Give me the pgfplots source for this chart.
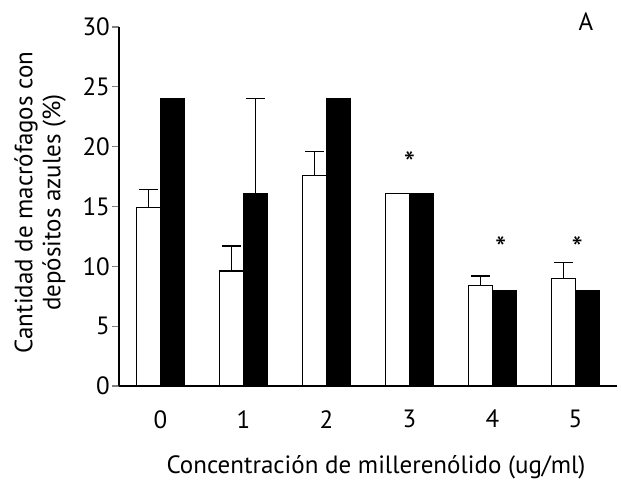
\documentclass[border=0pt]{standalone}
\usepackage{pgfplots}
\pgfplotsset{compat=1.18}
\usepackage{fontspec}
\setmainfont{PT Sans}
\newcommand\bigf{\fontsize{25}{28}\selectfont}
\begin{document}
\bigf
\begin{tikzpicture}
\begin{axis}[
  scale only axis, width=498pt, height=359pt,
  ybar, bar width=24pt,
  axis lines=left, axis line style={-, line width=1.3pt},
  xmin=-0.5, xmax=5.5, ymin=0, ymax=30,
  ytick={0,5,...,30},
  xtick={0,...,5}, xticklabels={0,1,2,3,4,5},
  xtick style={draw=none},
  extra x ticks={-0.5,0.5,1.5,2.5,3.5,4.5,5.5},
  extra x tick labels={},
  extra x tick style={tick style={draw=black, line width=1.3pt}, major tick length=9pt},
  ytick style={line width=1.3pt},
  major tick length=7pt,
  tick align=outside,
  /pgf/number format/assume math mode=true,
  tick label style={font=\bigf, inner sep=0pt},
  xticklabel style={anchor=north, yshift=-17pt},
  yticklabel style={anchor=east, xshift=-2pt},
  xlabel={Concentración de millerenólido (ug/ml)},
  xlabel style={font=\bigf, inner sep=0pt, at={(rel axis cs:0.516,0)}, anchor=north, yshift=-69pt},
  ylabel={Cantidad de macrófagos con\\depósitos azules (\%)},
  ylabel style={font=\bigf, inner sep=0pt, align=center, at={(rel axis cs:-0.1064,0.511)}, anchor=south},
  clip=false,
]
\addplot[bar shift=-12pt, draw=black, fill=white, line width=1.3pt,
  error bars/.cd, y dir=plus, y explicit,
  error bar style={line width=1.3pt},
  error mark options={rotate=90, mark size=9.5pt, line width=1.3pt}]
  coordinates {
  (0,14.9) +- (0,1.5)
  (1,9.6) +- (0,2.1)
  (2,17.6) +- (0,2.0)
  (3,16.1) +- (0,0)
  (4,8.4) +- (0,0.8)
  (5,9.0) +- (0,1.3)
  };
\addplot[bar shift=12pt, draw=black, fill=black, line width=1.3pt,
  error bars/.cd, y dir=plus, y explicit,
  error bar style={line width=1.3pt},
  error mark options={rotate=90, mark size=9.5pt, line width=1.3pt}]
  coordinates {
  (0,24.0) +- (0,0)
  (1,16.1) +- (0,7.9)
  (2,24.0) +- (0,0)
  (3,16.1) +- (0,0)
  (4,8.0) +- (0,0)
  (5,8.0) +- (0,0)
  };
\addplot[sharp plot, bar shift=0pt, draw=none, mark=none, nodes near coords={*}, nodes near coords align={center},
  every node near coord/.append style={font=\fontsize{32}{32}\selectfont, inner sep=0pt}]
  coordinates {(3,18.6) (4.1,11.5) (5.02,11.5)};
\node[font=\bigf, anchor=center] at (rel axis cs:0.9375,1.014) {A};
\coordinate (bl) at (rel axis cs:0,0);
\coordinate (tr) at (rel axis cs:1,1);
\end{axis}
\path (bl) ++(-119pt,-95pt) coordinate (p1);
\path (tr) ++(4pt,27pt) coordinate (p2);
\pgfresetboundingbox
\path[use as bounding box] (p1) rectangle (p2);
\end{tikzpicture}
\end{document}
